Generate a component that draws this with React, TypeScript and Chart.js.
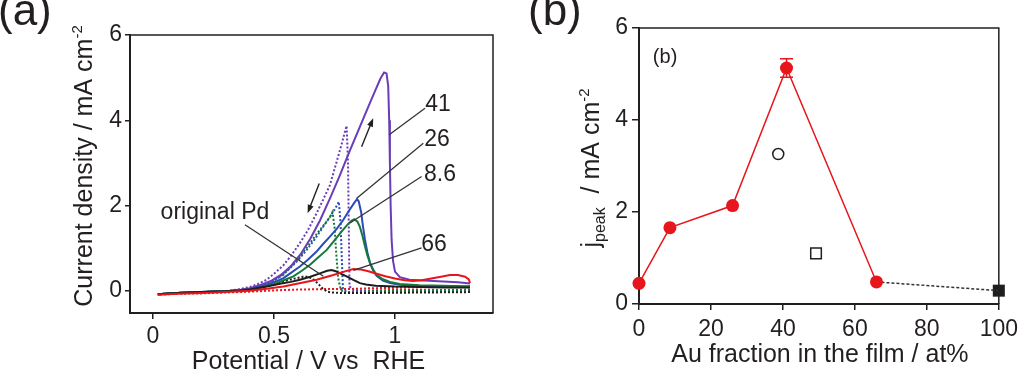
import React, { useEffect, useRef } from 'react';
import { Chart, registerables } from 'chart.js';

Chart.register(...registerables);

const FONT = "'Liberation Sans', Arial, Helvetica, sans-serif";
const INK = '#231f20';
const PURPLE = '#6a3db8';
const BLUE = '#2a4bb8';
const GREEN = '#17783a';
const RED = '#e6161c';
const BLACK = '#1e1e1e';

// ---------- Panel (a): CV curves (potential V vs RHE, current density mA cm-2)
const potentialTicks = [0, 0.5, 1];
const currentTicks = [0, 2, 4, 6];

const au41Forward: [number, number][] = [
  [0.02, -0.08], [0.1, -0.05], [0.2, -0.03], [0.3, -0.01], [0.36, 0.02], [0.4, 0.06], [0.45, 0.15],
  [0.49, 0.24], [0.53, 0.38], [0.57, 0.58], [0.61, 0.86], [0.65, 1.22], [0.69, 1.65], [0.73, 2.15],
  [0.77, 2.68], [0.81, 3.24], [0.85, 3.78], [0.89, 4.32], [0.92, 4.72], [0.94, 4.98], [0.955, 5.12],
  [0.965, 5.1], [0.972, 4.8], [0.976, 4.0], [0.979, 3.0], [0.982, 2.0], [0.986, 1.2], [0.992, 0.7],
  [1.0, 0.45], [1.02, 0.32], [1.06, 0.26], [1.12, 0.24], [1.2, 0.22], [1.26, 0.2], [1.31, 0.17],
];
const au41Backward: [number, number][] = [
  [1.31, 0.03], [1.2, 0.02], [1.1, 0.02], [1.0, 0.02], [0.9, 0.01], [0.83, 0.01], [0.812, 0.1],
  [0.809, 1.5], [0.806, 3.0], [0.8, 3.87], [0.78, 3.45], [0.755, 2.95], [0.731, 2.48], [0.7, 2.1],
  [0.676, 1.82], [0.64, 1.42], [0.607, 1.12], [0.57, 0.82], [0.539, 0.6], [0.5, 0.4], [0.47, 0.26],
  [0.43, 0.15], [0.4, 0.09], [0.35, 0.03], [0.3, -0.01], [0.2, -0.03], [0.1, -0.05], [0.02, -0.08],
];
const au26Forward: [number, number][] = [
  [0.02, -0.08], [0.1, -0.05], [0.2, -0.03], [0.3, -0.01], [0.36, 0.01], [0.4, 0.04], [0.44, 0.09],
  [0.47, 0.14], [0.51, 0.22], [0.539, 0.3], [0.57, 0.42], [0.607, 0.57], [0.64, 0.73], [0.676, 0.92],
  [0.7, 1.08], [0.731, 1.27], [0.76, 1.46], [0.786, 1.66], [0.81, 1.88], [0.83, 2.05], [0.843, 2.15],
  [0.85, 2.1], [0.86, 1.85], [0.868, 1.5], [0.876, 1.2], [0.886, 0.9], [0.897, 0.65], [0.91, 0.47],
  [0.924, 0.35], [0.95, 0.24], [0.98, 0.18], [1.02, 0.14], [1.1, 0.12], [1.2, 0.11], [1.31, 0.1],
];
const au26Backward: [number, number][] = [
  [1.31, 0.0], [1.2, 0.0], [1.0, -0.01], [0.85, -0.02], [0.8, -0.03], [0.785, 0.05], [0.78, 0.8],
  [0.775, 1.6], [0.768, 2.09], [0.755, 1.95], [0.73, 1.72], [0.704, 1.51], [0.67, 1.22], [0.635, 0.96],
  [0.6, 0.72], [0.566, 0.53], [0.53, 0.35], [0.49, 0.2], [0.45, 0.12], [0.4, 0.05], [0.35, 0.01],
  [0.3, -0.01], [0.2, -0.03], [0.1, -0.05], [0.02, -0.08],
];
const au8Forward: [number, number][] = [
  [0.02, -0.08], [0.1, -0.05], [0.2, -0.03], [0.3, -0.01], [0.36, 0.01], [0.4, 0.03], [0.45, 0.08],
  [0.49, 0.14], [0.511, 0.18], [0.545, 0.26], [0.58, 0.34], [0.615, 0.47], [0.649, 0.61], [0.68, 0.77],
  [0.718, 0.96], [0.745, 1.15], [0.773, 1.35], [0.8, 1.53], [0.82, 1.64], [0.832, 1.68], [0.845, 1.62],
  [0.855, 1.5], [0.866, 1.28], [0.876, 1.04], [0.886, 0.83], [0.897, 0.65], [0.91, 0.5], [0.924, 0.37],
  [0.95, 0.27], [0.98, 0.21], [1.02, 0.16], [1.1, 0.13], [1.2, 0.12], [1.31, 0.1],
];
const au8Backward: [number, number][] = [
  [1.31, 0.02], [1.1, 0.01], [0.9, -0.01], [0.8, -0.03], [0.785, -0.04], [0.775, 0.05], [0.765, 0.3],
  [0.757, 0.9], [0.75, 1.5], [0.742, 1.85], [0.73, 1.72], [0.7, 1.5], [0.676, 1.33], [0.64, 1.05],
  [0.607, 0.8], [0.57, 0.56], [0.539, 0.38], [0.5, 0.24], [0.47, 0.16], [0.43, 0.08], [0.4, 0.04],
  [0.35, 0.01], [0.3, -0.01], [0.2, -0.03], [0.1, -0.05], [0.02, -0.08],
];
const pdForward: [number, number][] = [
  [0.02, -0.08], [0.1, -0.05], [0.2, -0.03], [0.3, -0.01], [0.36, 0.01], [0.4, 0.03], [0.47, 0.1],
  [0.53, 0.17], [0.57, 0.21], [0.607, 0.26], [0.65, 0.33], [0.69, 0.41], [0.72, 0.47], [0.738, 0.49],
  [0.755, 0.46], [0.78, 0.39], [0.8, 0.34], [0.83, 0.25], [0.855, 0.18], [0.88, 0.15], [0.92, 0.12],
  [1.0, 0.1], [1.1, 0.09], [1.2, 0.08], [1.31, 0.08],
];
const pdBackward: [number, number][] = [
  [1.31, -0.03], [1.1, -0.04], [0.9, -0.05], [0.78, -0.05], [0.74, -0.04], [0.72, -0.02], [0.7, 0.06],
  [0.68, 0.18], [0.66, 0.28], [0.64, 0.33], [0.62, 0.33], [0.58, 0.28], [0.54, 0.22], [0.5, 0.15],
  [0.45, 0.09], [0.4, 0.04], [0.35, 0.01], [0.3, -0.01], [0.2, -0.03], [0.1, -0.05], [0.02, -0.08],
];
const au66Forward: [number, number][] = [
  [0.02, -0.09], [0.1, -0.07], [0.2, -0.05], [0.3, -0.03], [0.4, 0.0], [0.47, 0.05], [0.539, 0.1],
  [0.6, 0.17], [0.676, 0.26], [0.745, 0.37], [0.79, 0.45], [0.828, 0.51], [0.86, 0.5], [0.89, 0.46],
  [0.924, 0.4], [0.96, 0.34], [1.0, 0.29], [1.04, 0.25], [1.075, 0.23], [1.11, 0.25], [1.15, 0.29],
  [1.19, 0.33], [1.227, 0.37], [1.26, 0.37], [1.29, 0.33], [1.305, 0.27], [1.31, 0.18],
];
const au66Backward: [number, number][] = [
  [1.31, 0.1], [1.2, 0.09], [1.1, 0.08], [1.0, 0.07], [0.9, 0.06], [0.8, 0.04], [0.7, 0.04],
  [0.6, 0.03], [0.5, 0.01], [0.4, -0.02], [0.3, -0.04], [0.2, -0.06], [0.1, -0.07], [0.02, -0.09],
];

// annotations of panel (a), in data units
const curveLabels = ['41', '26', '8.6', '66', 'original Pd'];
const curveLabelX = [1.178, 1.174, 1.186, 1.161, 0.256];
const curveLabelY = [4.36, 3.54, 2.72, 1.08, 1.83];
const leaderFrom: [number, number][] = [[0.976, 3.66], [0.842, 2.17], [0.814, 1.59], [0.828, 0.48], [0.38, 1.55]];
const leaderTo: [number, number][] = [[1.124, 4.28], [1.117, 3.46], [1.11, 2.68], [1.11, 1.01], [0.704, 0.34]];
const arrowFrom: [number, number][] = [[0.862, 3.38], [0.687, 2.52]];
const arrowTo: [number, number][] = [[0.91, 4.05], [0.639, 1.82]];

// ---------- Panel (b): peak current vs Au fraction
const fractionTicks = [0, 20, 40, 60, 80, 100];
const jTicks = [0, 2, 4, 6];
const auFraction = [0, 8.6, 26, 41, 66];
const jPeak = [0.45, 1.66, 2.14, 5.13, 0.48];
const jPeakError = [0, 0, 0, 0.2, 0];
const tailFraction = [66, 100];
const tailJ = [0.48, 0.29];
const pureAu: [number, number] = [100, 0.29];
const openCircle: [number, number] = [38.7, 3.26];
const openSquare: [number, number] = [49.2, 1.1];

const toPts = (arr: [number, number][]) => arr.map(([x, y]) => ({ x, y }));

type Part = { text: string; size: number; dy: number };

function drawRotated(ctx: CanvasRenderingContext2D, parts: Part[], baseX: number, centerY: number) {
  ctx.save();
  let total = 0;
  const widths = parts.map((p) => {
    ctx.font = `${p.size}px ${FONT}`;
    const w = ctx.measureText(p.text).width;
    total += w;
    return w;
  });
  ctx.translate(baseX, centerY);
  ctx.rotate(-Math.PI / 2);
  ctx.fillStyle = INK;
  ctx.textBaseline = 'alphabetic';
  ctx.textAlign = 'left';
  let x = -total / 2;
  parts.forEach((p, i) => {
    ctx.font = `${p.size}px ${FONT}`;
    ctx.fillText(p.text, x, p.dy);
    x += widths[i];
  });
  ctx.restore();
}

function drawBoxTopRight(chart: any) {
  const { ctx, chartArea } = chart;
  ctx.save();
  ctx.strokeStyle = INK;
  ctx.lineWidth = 1.5;
  ctx.beginPath();
  ctx.moveTo(chartArea.left, chartArea.top);
  ctx.lineTo(chartArea.right, chartArea.top);
  ctx.lineTo(chartArea.right, chartArea.bottom);
  ctx.stroke();
  ctx.restore();
}

const panelAPlugin = {
  id: 'panelADecor',
  afterDraw(chart: any) {
    const { ctx, scales } = chart;
    const sx = scales.x;
    const sy = scales.y;
    drawBoxTopRight(chart);
    ctx.save();
    ctx.strokeStyle = '#333';
    ctx.lineWidth = 1.3;
    leaderFrom.forEach((f, i) => {
      const t = leaderTo[i];
      ctx.beginPath();
      ctx.moveTo(sx.getPixelForValue(f[0]), sy.getPixelForValue(f[1]));
      ctx.lineTo(sx.getPixelForValue(t[0]), sy.getPixelForValue(t[1]));
      ctx.stroke();
    });
    ctx.strokeStyle = INK;
    ctx.fillStyle = INK;
    ctx.lineWidth = 1.4;
    arrowFrom.forEach((f, i) => {
      const t = arrowTo[i];
      const x0 = sx.getPixelForValue(f[0]);
      const y0 = sy.getPixelForValue(f[1]);
      const x1 = sx.getPixelForValue(t[0]);
      const y1 = sy.getPixelForValue(t[1]);
      const ang = Math.atan2(y1 - y0, x1 - x0);
      const head = 9;
      ctx.beginPath();
      ctx.moveTo(x0, y0);
      ctx.lineTo(x1 - Math.cos(ang) * head * 0.7, y1 - Math.sin(ang) * head * 0.7);
      ctx.stroke();
      ctx.beginPath();
      ctx.moveTo(x1, y1);
      ctx.lineTo(x1 - head * Math.cos(ang - 0.35), y1 - head * Math.sin(ang - 0.35));
      ctx.lineTo(x1 - head * Math.cos(ang + 0.35), y1 - head * Math.sin(ang + 0.35));
      ctx.closePath();
      ctx.fill();
    });
    ctx.fillStyle = INK;
    ctx.font = `23px ${FONT}`;
    ctx.textAlign = 'center';
    ctx.textBaseline = 'middle';
    curveLabels.forEach((t, i) => {
      ctx.fillText(t, sx.getPixelForValue(curveLabelX[i]), sy.getPixelForValue(curveLabelY[i]));
    });
    ctx.textAlign = 'center';
    ctx.textBaseline = 'alphabetic';
    ctx.font = `25px ${FONT}`;
    ctx.fillText('Potential / V vs  RHE', (chart.chartArea.left + chart.chartArea.right) / 2 - 3, 369);
    ctx.restore();
    drawRotated(ctx, [
      { text: 'Current density / mA cm', size: 25, dy: 0 },
      { text: '-2', size: 15, dy: -10 },
    ], 92, 166);
    ctx.save();
    ctx.fillStyle = INK;
    ctx.font = `44px ${FONT}`;
    ctx.textAlign = 'left';
    ctx.textBaseline = 'alphabetic';
    ctx.fillText('(a)', -2, 25);
    ctx.restore();
  },
};

const panelBPlugin = {
  id: 'panelBDecor',
  beforeDatasetsDraw(chart: any) {
    const { ctx, scales } = chart;
    const sx = scales.x;
    const sy = scales.y;
    ctx.save();
    ctx.strokeStyle = RED;
    ctx.lineWidth = 1.5;
    auFraction.forEach((f, i) => {
      const e = jPeakError[i];
      if (!e) return;
      const x = sx.getPixelForValue(f);
      const yTop = sy.getPixelForValue(jPeak[i] + e);
      const yBot = sy.getPixelForValue(jPeak[i] - e);
      ctx.beginPath();
      ctx.moveTo(x, yTop);
      ctx.lineTo(x, yBot);
      ctx.moveTo(x - 6.5, yTop);
      ctx.lineTo(x + 6.5, yTop);
      ctx.moveTo(x - 6.5, yBot);
      ctx.lineTo(x + 6.5, yBot);
      ctx.stroke();
    });
    ctx.restore();
  },
  afterDraw(chart: any) {
    const { ctx, scales, chartArea } = chart;
    const sx = scales.x;
    const sy = scales.y;
    drawBoxTopRight(chart);
    ctx.save();
    ctx.fillStyle = INK;
    ctx.font = `20px ${FONT}`;
    ctx.textAlign = 'left';
    ctx.textBaseline = 'alphabetic';
    ctx.fillText('(b)', sx.getPixelForValue(3.85), sy.getPixelForValue(5.24));
    ctx.font = `25px ${FONT}`;
    ctx.textAlign = 'center';
    ctx.fillText('Au fraction in the film / at%', (chartArea.left + chartArea.right) / 2 + 1, 362);
    ctx.font = `44px ${FONT}`;
    ctx.textAlign = 'left';
    ctx.fillText('(b)', 18, 25);
    ctx.restore();
    drawRotated(ctx, [
      { text: 'j', size: 25, dy: 0 },
      { text: 'peak', size: 16, dy: 6 },
      { text: '  / mA cm', size: 25, dy: 0 },
      { text: '-2', size: 15, dy: -10 },
    ], 89, 168);
  },
};

function axisCommon(tickList: number[], tickLen: number, pad: number) {
  return {
    type: 'linear' as const,
    afterBuildTicks: (s: any) => {
      s.ticks = tickList.map((v) => ({ value: v }));
    },
    ticks: {
      color: INK,
      font: { family: FONT, size: 23 },
      padding: pad,
      autoSkip: false,
      maxRotation: 0,
      callback: (v: any) => String(v),
    },
    grid: {
      drawOnChartArea: false,
      drawTicks: true,
      tickLength: tickLen,
      color: INK,
      lineWidth: 1.5,
    },
    border: { display: true, color: INK, width: 2 },
  };
}

export default function App() {
  const refA = useRef<HTMLCanvasElement>(null);
  const refB = useRef<HTMLCanvasElement>(null);

  useEffect(() => {
    const line = (data: [number, number][], color: string, dashed: boolean, order: number) => ({
      data: toPts(data),
      showLine: true,
      borderColor: color,
      backgroundColor: color,
      borderWidth: 2,
      borderDash: dashed ? [2, 2] : [],
      pointRadius: 0,
      tension: 0,
      order,
    });

    const chartA = new Chart(refA.current!, {
      type: 'scatter',
      data: {
        datasets: [
          line(au66Forward, RED, false, 0),
          line(au66Backward, RED, true, 9),
          line(pdForward, BLACK, false, 1),
          line(pdBackward, BLACK, true, 5),
          line(au8Forward, GREEN, false, 2),
          line(au8Backward, GREEN, true, 6),
          line(au26Forward, BLUE, false, 3),
          line(au26Backward, BLUE, true, 7),
          line(au41Forward, PURPLE, false, 4),
          line(au41Backward, PURPLE, true, 8),
        ],
      },
      options: {
        responsive: false,
        animation: false,
        layout: { padding: { left: 0, top: 35, right: 17, bottom: 0 } },
        plugins: { legend: { display: false }, tooltip: { enabled: false } },
        scales: {
          x: {
            ...axisCommon(potentialTicks, 6, 4),
            min: -0.095,
            max: 1.405,
            afterFit: (s: any) => {
              s.height = 58;
            },
          },
          y: {
            ...axisCommon(currentTicks, 5, 3),
            min: -0.52,
            max: 6,
            afterFit: (s: any) => {
              s.width = 130;
            },
          },
        },
      },
      plugins: [panelAPlugin],
    });

    const chartB = new Chart(refB.current!, {
      type: 'scatter',
      data: {
        datasets: [
          {
            data: auFraction.map((x, i) => ({ x, y: jPeak[i] })),
            showLine: true,
            borderColor: RED,
            backgroundColor: RED,
            borderWidth: 1.5,
            pointRadius: 6.5,
            pointBorderWidth: 0,
            tension: 0,
            clip: false,
          },
          {
            data: tailFraction.map((x, i) => ({ x, y: tailJ[i] })),
            showLine: true,
            borderColor: '#333',
            borderWidth: 1.5,
            borderDash: [3, 2],
            pointRadius: 0,
            clip: false,
          },
          {
            data: [{ x: pureAu[0], y: pureAu[1] }],
            pointStyle: 'rect',
            pointRadius: 8.5,
            backgroundColor: BLACK,
            borderColor: BLACK,
            borderWidth: 0,
            clip: false,
          },
          {
            data: [{ x: openCircle[0], y: openCircle[1] }],
            pointStyle: 'circle',
            pointRadius: 5.5,
            backgroundColor: '#fff',
            borderColor: INK,
            borderWidth: 1.5,
            clip: false,
          },
          {
            data: [{ x: openSquare[0], y: openSquare[1] }],
            pointStyle: 'rect',
            pointRadius: 7.5,
            backgroundColor: '#fff',
            borderColor: INK,
            borderWidth: 1.5,
            clip: false,
          },
        ],
      },
      options: {
        responsive: false,
        animation: false,
        layout: { padding: { left: 0, top: 28, right: 21, bottom: 0 } },
        plugins: { legend: { display: false }, tooltip: { enabled: false } },
        scales: {
          x: {
            ...axisCommon(fractionTicks, 6, 6),
            min: 0,
            max: 100,
            afterFit: (s: any) => {
              s.height = 67;
            },
          },
          y: {
            ...axisCommon(jTicks, 7, 4),
            min: 0,
            max: 6,
            afterFit: (s: any) => {
              s.width = 129;
            },
          },
        },
      },
      plugins: [panelBPlugin],
    });

    return () => {
      chartA.destroy();
      chartB.destroy();
    };
  }, []);

  return (
    <div style={{ position: 'fixed', left: 0, top: 0, width: 1024, height: 371, background: '#fff', overflow: 'hidden' }}>
      <canvas ref={refA} width={510} height={371} style={{ position: 'absolute', left: 0, top: 0, display: 'block' }} />
      <canvas ref={refB} width={514} height={371} style={{ position: 'absolute', left: 510, top: 0, display: 'block' }} />
    </div>
  );
}
